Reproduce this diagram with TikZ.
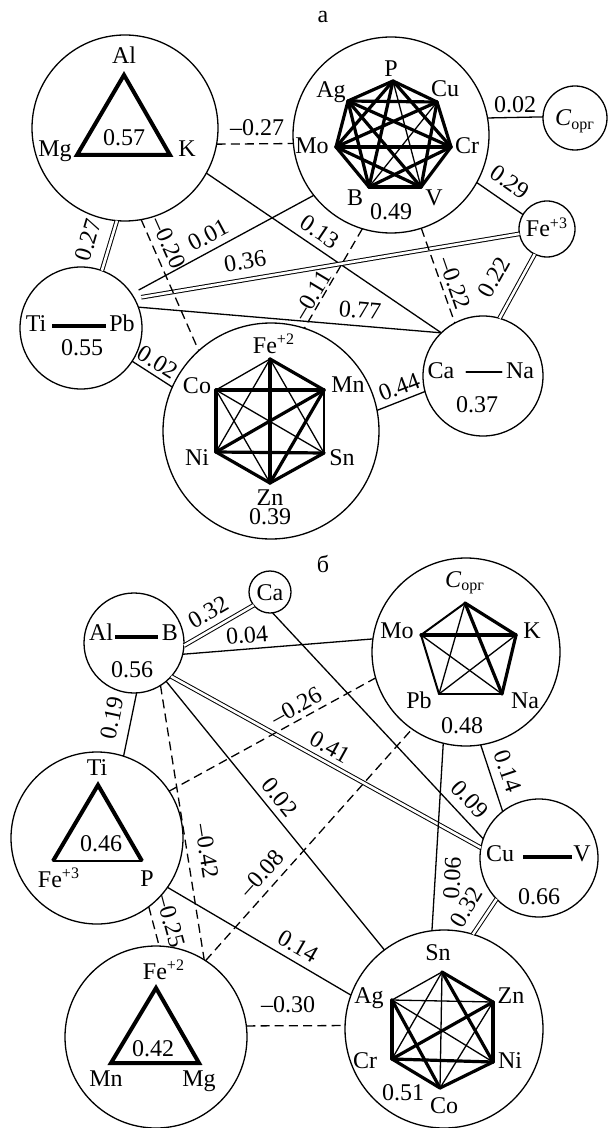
\documentclass[tikz,border=0pt]{standalone}
\usepackage{fontspec}
\setmainfont{Liberation Serif}
\newcommand{\corg}{\textit{C}\textsubscript{орг}}
\begin{document}
\begin{tikzpicture}[x=0.5pt,y=-0.5pt]
\tikzset{
  circ/.style={circle,draw,line width=0.65pt,inner sep=0pt,outer sep=0pt},
  txt/.style={font=\fontsize{12}{12}\selectfont,inner sep=0pt,text height=8pt,text depth=0pt},
  wthin/.style={line width=0.65pt,line cap=round},
  wmid/.style={line width=1pt,line cap=round},
  wbold/.style={line width=1.6pt,line cap=round,line join=round},
  wheavy/.style={line width=2pt,line join=miter},
  link/.style={line width=0.65pt},
  neg/.style={line width=0.65pt,dash pattern=on 4.5pt off 2.6pt},
  pair/.style={line width=0.5pt,double,double distance=1.3pt},
}
\useasboundingbox (0,0) rectangle (609,1128);

% ================= panel a =================
\node[txt,anchor=base,text height=,text depth=] (capA) at (323,23) {а};

\node[circ,minimum size=93pt]  (aAl)   at (125,128) {};
\node[circ,minimum size=98pt]  (aHept) at (391,135) {};
\node[circ,txt,minimum size=32pt] (aC)  at (575,118) {\corg};
\node[circ,txt,minimum size=28pt] (aFe) at (547,229) {Fe\textsuperscript{+3}};
\node[circ,minimum size=60pt]  (aCaNa) at (483,376) {};
\node[circ,minimum size=61pt]  (aTiPb) at (81,328) {};
\node[circ,minimum size=108pt] (aHex)  at (271,431) {};

% Al-Mg-K triangle
\coordinate (aVAl) at (124,75);
\coordinate (aVMg) at (77,155);
\coordinate (aVK)  at (170,155);
\draw[wheavy] (aVAl) -- (aVMg) -- (aVK) -- cycle;
\node[txt] (aEAl) at (124,56) {Al};
\node[txt] (aEMg) at (55,149) {Mg};
\node[txt] (aEK)  at (187,149) {K};
\node[txt] (aWAl) at (124,138) {0.57};

% heptagon
\foreach \n/\x/\y in {P/393/81,Cu/437/102,Cr/451/147,V/421/187,B/369/187,Mo/336/147,Ag/348/101}
  \coordinate (aH\n) at (\x,\y);
\foreach \u/\v in {P/V,Cu/B}
  \draw[wthin] (aH\u) -- (aH\v);
\foreach \u/\v in {P/Cu,P/Cr,P/B,P/Mo,P/Ag,Cu/Cr,Cu/V,Cu/Mo,Cu/Ag,Cr/V,Cr/B,Cr/Mo,Cr/Ag,V/B,V/Mo,V/Ag,B/Mo,B/Ag,Mo/Ag}
  \draw[wbold] (aH\u) -- (aH\v);
\node[txt] (aEP)  at (391,69)  {P};
\node[txt] (aEAg) at (331,90)  {Ag};
\node[txt] (aECu) at (445,89)  {Cu};
\node[txt] (aEMo) at (312,146) {Mo};
\node[txt] (aECr) at (467,146) {Cr};
\node[txt] (aEB)  at (355,198) {B};
\node[txt] (aEV)  at (434,198) {V};
\node[txt] (aWHept) at (391,212) {0.49};

% hexagon
\foreach \n/\x/\y in {Fe/270/359,Mn/324/390,Sn/324/453,Zn/270/483,Ni/216/452,Co/216/390}
  \coordinate (aX\n) at (\x,\y);
\foreach \u/\v in {Fe/Co,Sn/Mn,Co/Sn,Fe/Ni,Fe/Sn,Co/Zn}
  \draw[wthin] (aX\u) -- (aX\v);
\foreach \u/\v in {Co/Ni,Ni/Zn,Zn/Sn,Fe/Mn,Co/Mn,Ni/Sn,Fe/Zn,Ni/Mn,Zn/Mn}
  \draw[wbold] (aX\u) -- (aX\v);
\node[txt] (aEFe) at (274,345) {Fe\textsuperscript{+2}};
\node[txt] (aECo) at (197,385) {Co};
\node[txt] (aENi) at (197,457) {Ni};
\node[txt] (aEMn) at (348,384) {Mn};
\node[txt] (aESn) at (342,457) {Sn};
\node[txt] (aEZn) at (270,497) {Zn};
\node[txt] (aWHex) at (270,516) {0.39};

% Ti-Pb and Ca-Na pairs
\node[txt] (aETi) at (36,323)  {Ti};
\node[txt] (aEPb) at (122,323) {Pb};
\draw[wheavy,shorten <=2.7pt,shorten >=1.7pt] ([yshift=-1.5pt]aETi.east) -- ([yshift=-1.5pt]aEPb.west);
\node[txt] (aWTiPb) at (82,348) {0.55};
\node[txt] (aECa) at (441,371) {Ca};
\node[txt] (aENa) at (520,371) {Na};
\draw[wmid,shorten <=5.8pt,shorten >=2pt] ([yshift=-0.5pt]aECa.east) -- ([yshift=-0.5pt]aENa.west);
\node[txt] (aWCaNa) at (477,404) {0.37};

% connectors between groups
\draw[neg]  (aAl.-10)  -- (aHept.185);
\draw[link] (aAl.-29)  -- (aCaNa.134);
\draw[link,shorten <=4pt]  (aTiPb.34) -- (aHept.218);
\draw[pair,shorten <=3.5pt] (aTiPb.29) -- (aFe.190);
\draw[link] (aTiPb.20) -- (aCaNa.134);
\draw[neg]  (aAl.-80)  -- (aHex.132);
\draw[neg]  (aHept.253) -- (aHex.72);
\draw[neg]  (aHept.-72) -- (aCaNa.118);
\draw[link] (aHept.10) -- (aC.178);
\draw[link] (aHept.-29) -- (aFe.149);
\draw[pair] (aFe.244)  -- (aCaNa.74);
\draw[link] (aTiPb.-33) -- (aHex.156);
\draw[link] (aHex.11.5) -- (aCaNa.195);
\draw[pair] (aAl.265)  -- (aTiPb.70);

\node[txt] (aL1)  at (257,128) {–0.27};
\node[txt,rotate=-34] (aL2)  at (320,232) {0.13};
\node[txt,rotate=28]  (aL3)  at (208,235) {0.01};
\node[txt,rotate=10]  (aL4)  at (245,261) {0.36};
\node[txt,rotate=-5]  (aL5)  at (360,310) {0.77};
\node[txt,rotate=-66] (aL6)  at (169,243) {–0.20};
\node[txt,rotate=59]  (aL7)  at (312,295) {–0.11};
\node[txt,rotate=-71] (aL8)  at (455,283) {–0.22};
\node[txt]            (aL9)  at (515,105) {0.02};
\node[txt,rotate=-35] (aL10) at (510,182) {0.29};
\node[txt,rotate=61]  (aL11) at (494,277) {0.22};
\node[txt,rotate=-32] (aL12) at (158,362) {0.02};
\node[txt,rotate=21]  (aL13) at (399,387) {0.44};
\node[txt,rotate=74]  (aL14) at (88,240)  {0.27};

% ================= panel b =================
\node[txt,anchor=base,text height=,text depth=] (capB) at (323,572) {б};

\node[circ,minimum size=50pt] (bAlB) at (134,643) {};
\node[circ,txt,minimum size=21pt] (bCa) at (270,592) {Ca};
\node[circ,minimum size=94pt] (bPent) at (466,652) {};
\node[circ,minimum size=86pt] (bTiP) at (97,838) {};
\node[circ,minimum size=91pt] (bFe2) at (156,1037) {};
\node[circ,minimum size=99pt] (bHex) at (444,1029) {};
\node[circ,minimum size=59pt] (bCuV) at (539,858) {};

% Al-B pair
\node[txt] (bEAl) at (101,632) {Al};
\node[txt] (bEB)  at (170,632) {B};
\draw[wheavy,shorten <=1pt,shorten >=2pt] ([yshift=-2.5pt]bEAl.east) -- ([yshift=-2.5pt]bEB.west);
\node[txt] (bWAlB) at (132,669) {0.56};

% pentagon
\foreach \n/\x/\y in {C/465/603,K/516/635,Na/502/694,Pb/439/694,Mo/421/635}
  \coordinate (bP\n) at (\x,\y);
\foreach \u/\v in {C/Pb,Mo/Na,K/Pb}
  \draw[wthin] (bP\u) -- (bP\v);
\foreach \u/\v in {C/Mo,Mo/Pb,Pb/Na}
  \draw[wmid] (bP\u) -- (bP\v);
\foreach \u/\v in {C/K,Mo/K,C/Na,K/Na}
  \draw[wbold] (bP\u) -- (bP\v);
\node[txt] (bEC)  at (465,579) {\corg};
\node[txt] (bEMo) at (397,630) {Mo};
\node[txt] (bEK)  at (532,630) {K};
\node[txt] (bEPb) at (419,700) {Pb};
\node[txt] (bENa) at (525,700) {Na};
\node[txt] (bWPent) at (462,725) {0.48};

% Ti-Fe-P triangle
\coordinate (bTTi) at (98,785);
\coordinate (bTFe) at (53,861);
\coordinate (bTP)  at (142,861);
\draw[wmid] (bTFe) -- (bTP);
\draw[wheavy] (bTFe) -- (bTTi) -- (bTP);
\node[txt] (bETi)  at (97,767)  {Ti};
\node[txt] (bEFe3) at (59,879)  {Fe\textsuperscript{+3}};
\node[txt] (bEP)   at (147,878) {P};
\node[txt] (bWTiP) at (101,843) {0.46};

% Fe-Mn-Mg triangle
\coordinate (bFFe) at (156,988);
\coordinate (bFMn) at (111,1063);
\coordinate (bFMg) at (199,1063);
\draw[wheavy] (bFFe) -- (bFMn) -- (bFMg) -- cycle;
\node[txt] (bEFe2) at (164,971)  {Fe\textsuperscript{+2}};
\node[txt] (bEMn)  at (106,1078) {Mn};
\node[txt] (bEMg)  at (199,1078) {Mg};
\node[txt] (bWFe2) at (153,1048) {0.42};

% hexagon
\foreach \n/\x/\y in {Sn/442/972,Zn/493/1002,Ni/493/1062,Co/440/1088,Cr/392/1059,Ag/392/1000}
  \coordinate (bX\n) at (\x,\y);
\foreach \u/\v in {Ag/Sn,Ag/Zn,Sn/Co,Sn/Cr,Ag/Ni,Zn/Co}
  \draw[wthin] (bX\u) -- (bX\v);
\foreach \u/\v in {Sn/Zn,Zn/Ni,Ni/Co,Cr/Ag,Cr/Ni,Sn/Ni,Cr/Zn,Ag/Co,Cr/Co}
  \draw[wbold] (bX\u) -- (bX\v);
\node[txt] (bESn) at (438,952)  {Sn};
\node[txt] (bEAg) at (369,995)  {Ag};
\node[txt] (bEZn) at (511,995)  {Zn};
\node[txt] (bECr) at (365,1060) {Cr};
\node[txt] (bENi) at (510,1060) {Ni};
\node[txt] (bECo) at (444,1105) {Co};
\node[txt] (bWHex) at (403,1092) {0.51};

% Cu-V pair
\node[txt] (bECu) at (500,853) {Cu};
\node[txt] (bEV)  at (582,853) {V};
\draw[wheavy,shorten <=4.5pt,shorten >=0.3pt] ([yshift=-2pt]bECu.east) -- ([yshift=-2pt]bEV.west);
\node[txt] (bWCuV) at (539,896) {0.66};

% connectors between groups
\draw[pair] (bAlB.-3.5) -- (bCa.219.5);
\draw[link] (bAlB.-13)  -- (bPent.172);
\draw[link] (bCa.-83)   -- (bCuV.161);
\draw[pair] (bAlB.-42)  -- (bCuV.170);
\draw[link] (bAlB.-87)  -- (bTiP.72);
\draw[neg]  (bAlB.-58)  -- (bFe2.58);
\draw[link] (bAlB.-50)  -- (bHex.127);
\draw[neg]  (bTiP.33)   -- (bPent.196);
\draw[neg]  (bFe2.57)   -- (bPent.235);
\draw[neg]  (bTiP.-53.5) -- (bFe2.88);
\draw[link] (bTiP.-35.5) -- (bHex.160);
\draw[neg]  (bFe2.7)    -- (bHex.178);
\draw[link] (bPent.256.5) -- (bHex.97);
\draw[link] (bPent.-81.5) -- (bCuV.128);
\draw[pair] (bHex.73)   -- (bCuV.224);

\node[txt,rotate=30]  (bL1)  at (208,612) {0.32};
\node[txt,rotate=5]   (bL2)  at (247,635) {0.04};
\node[txt,rotate=-47] (bL3)  at (470,799) {0.09};
\node[txt,rotate=-29] (bL4)  at (330,747) {0.41};
\node[txt,rotate=78]  (bL5)  at (112,718) {0.19};
\node[txt,rotate=-81] (bL6)  at (207,851) {–0.42};
\node[txt,rotate=-51] (bL7)  at (280,797) {0.02};
\node[txt,rotate=29]  (bL8)  at (296,706) {–0.26};
\node[txt,rotate=48]  (bL9)  at (262,873) {–0.08};
\node[txt,rotate=-75] (bL10) at (171,921) {–0.25};
\node[txt,rotate=-30] (bL11) at (298,946) {0.14};
\node[txt]            (bL12) at (288,1004) {–0.30};
\node[txt,rotate=87]  (bL13) at (452,878) {0.06};
\node[txt,rotate=-71] (bL14) at (508,771) {0.14};
\node[txt,rotate=59]  (bL15) at (466,907) {0.32};
\end{tikzpicture}
\end{document}
